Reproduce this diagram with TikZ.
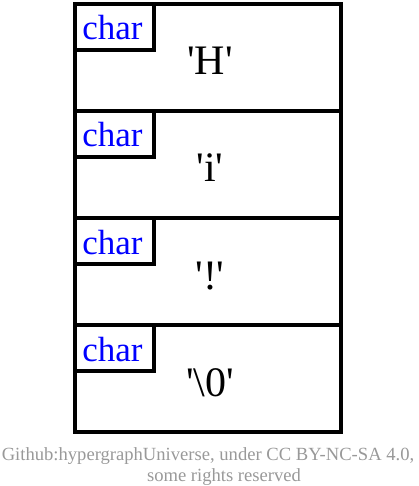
\documentclass[tikz,border=0pt]{standalone}
\usepackage{fontspec}
\setmainfont{Liberation Serif}
\definecolor{footgray}{HTML}{999999}
\newcommand{\sq}{\textquotesingle}
\begin{document}
\begin{tikzpicture}[x=1pt,y=-1pt,
  cellbox/.style={draw=black,line width=4pt,rectangle,inner sep=0pt,minimum width=266.5pt,minimum height=107pt},
  tagbox/.style={draw=black,line width=4pt,rectangle,inner sep=0pt,minimum width=79.5pt,minimum height=46pt},
  tagtext/.style={text=blue,font=\fontsize{35}{40}\selectfont,anchor=base,inner sep=0pt},
  valtext/.style={text=black,font=\fontsize{42}{48}\selectfont,anchor=base,inner sep=0pt},
  foot/.style={text=footgray,font=\fontsize{18.6}{22}\selectfont,anchor=base,inner sep=0pt}]
\useasboundingbox (0,0) rectangle (419,486);
\foreach \i/\v in {1/{\sq H\sq},2/{\sq i\sq},3/{\sq !\sq},4/{\sq\textbackslash0\sq}}{
  \pgfmathsetmacro{\t}{4+107*(\i-1)}
  \node[cellbox] (cell\i) at (207.75,\t+53.5) {};
  \node[tagbox] (tag\i) at (114.25,\t+23) {};
  \node[tagtext] (tagt\i) at (112.5,\t+36) {char};
  \node[valtext] (val\i) at (210,\t+71) {\v};
}
\node[foot] (foot1) at (208,460) {Github:hypergraphUniverse, under CC BY-NC-SA 4.0,};
\node[foot] (foot2) at (224,481) {some rights reserved};
\end{tikzpicture}
\end{document}
